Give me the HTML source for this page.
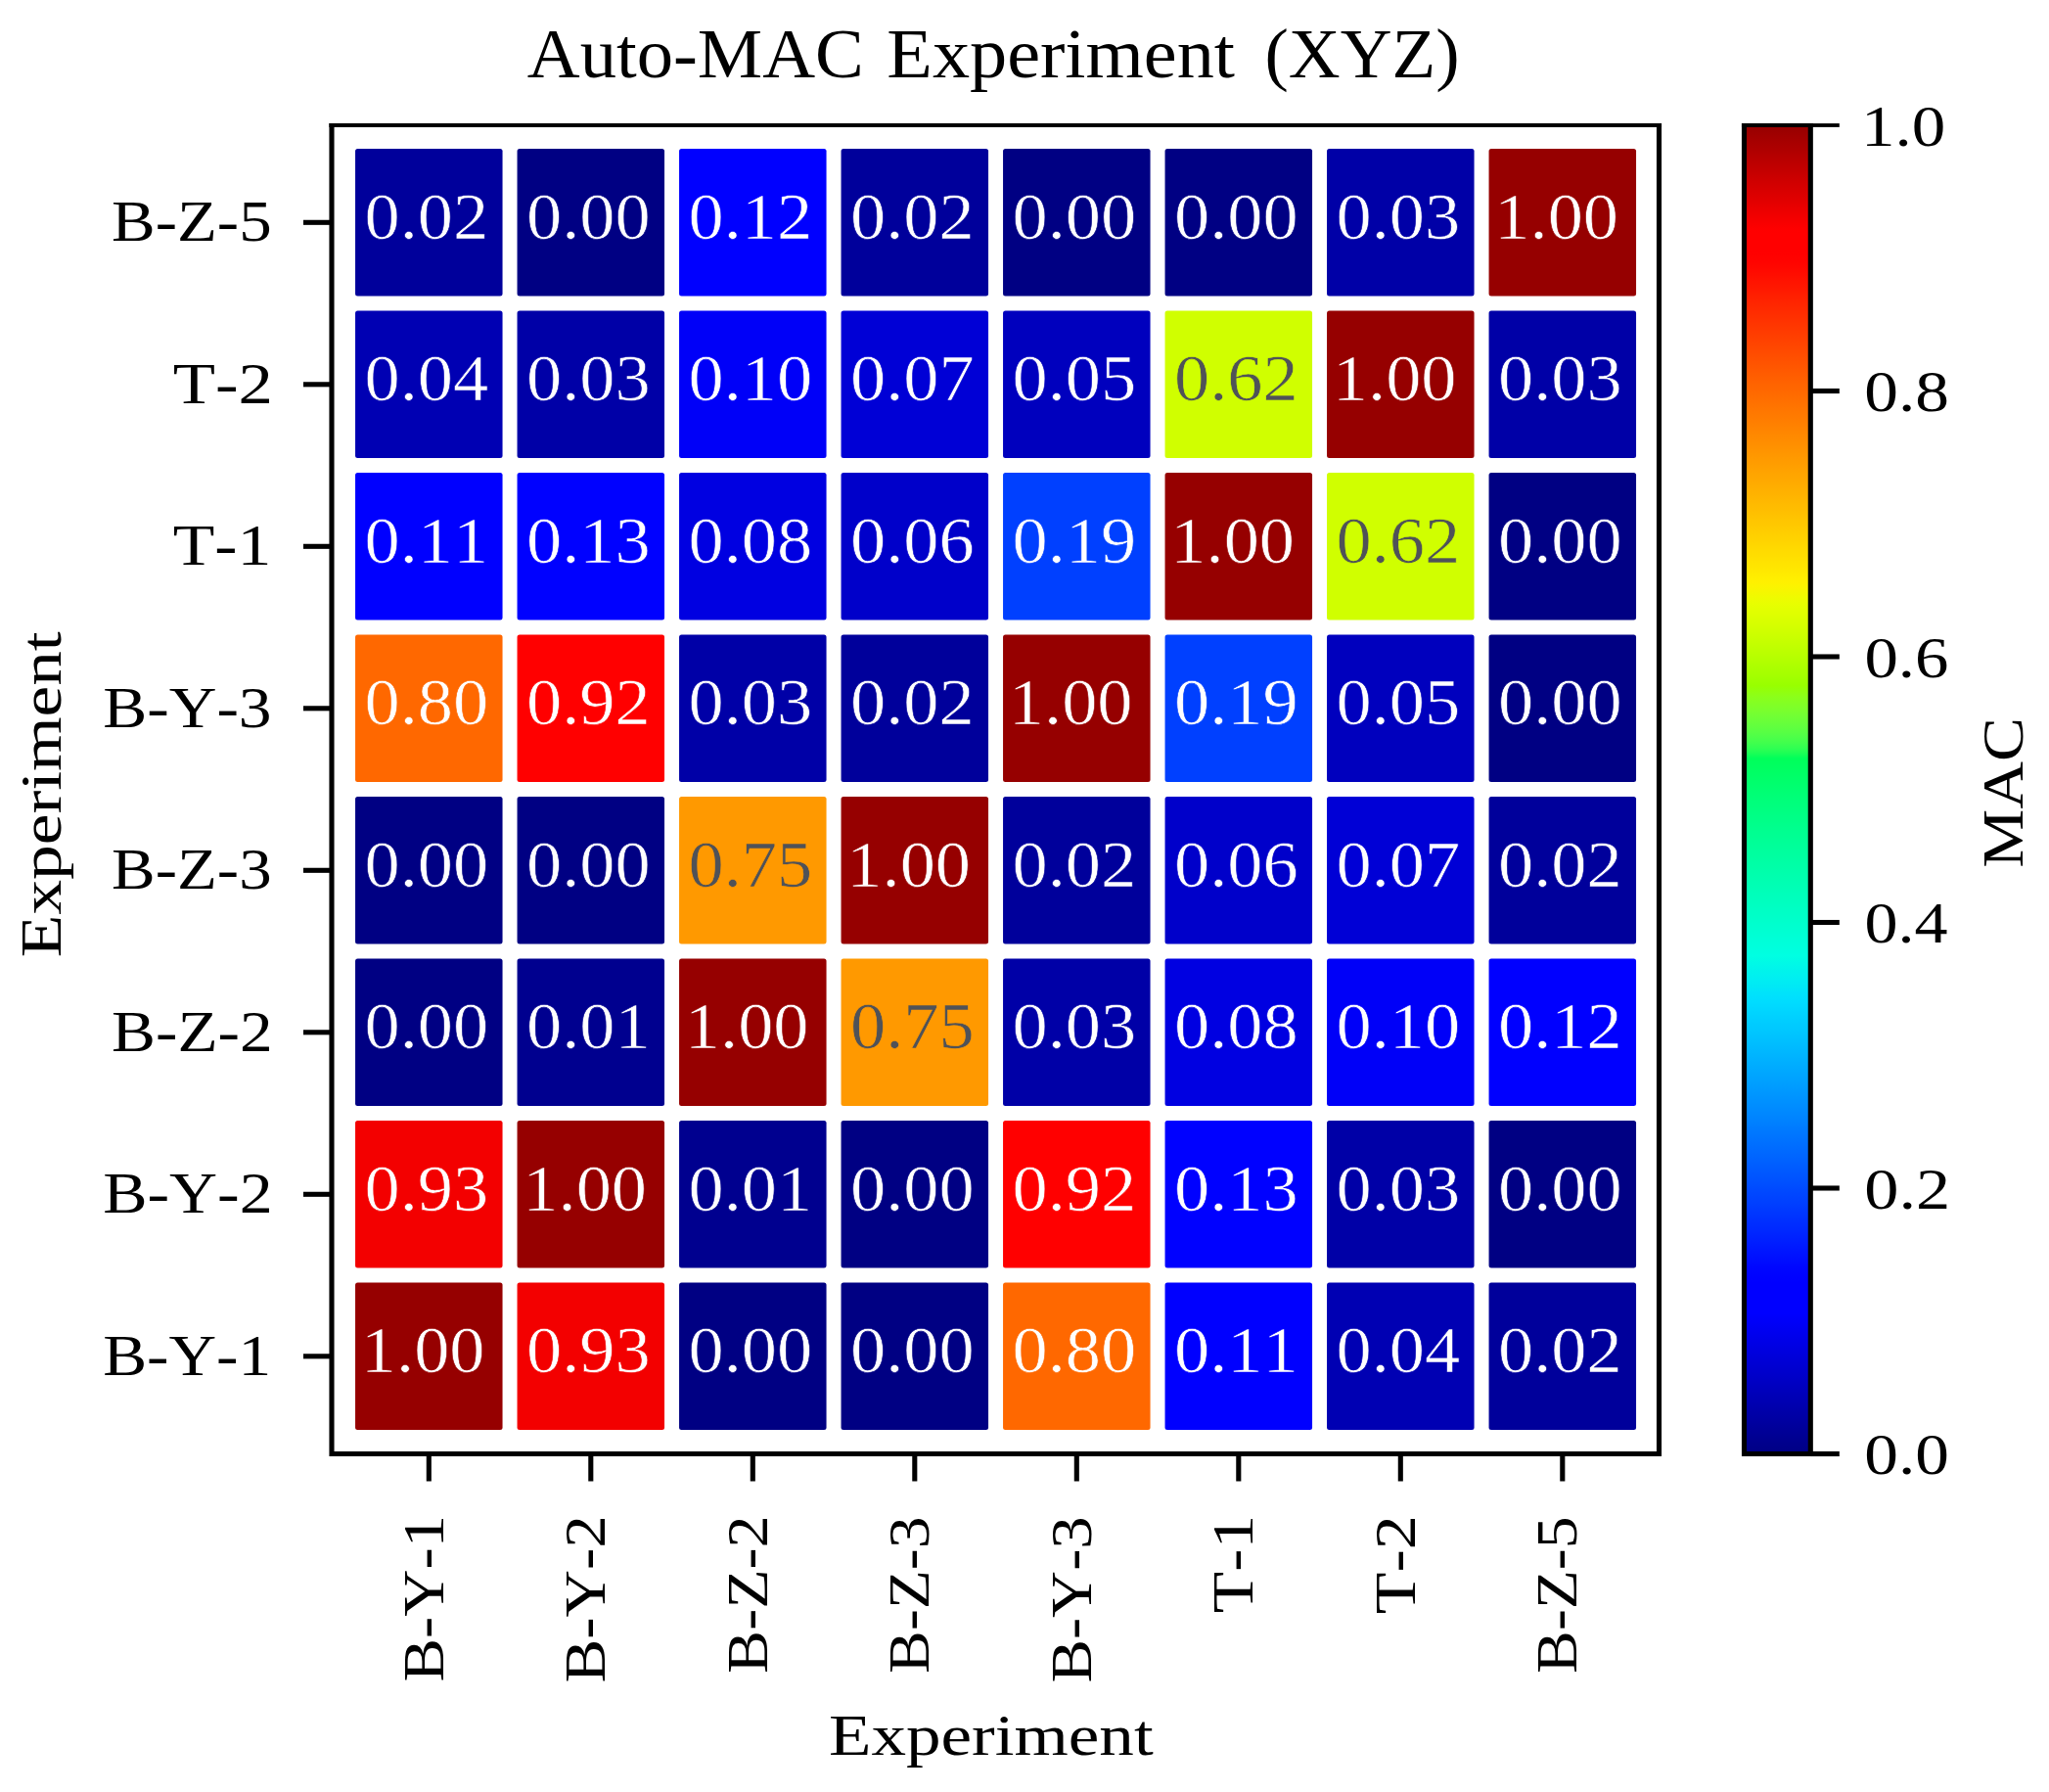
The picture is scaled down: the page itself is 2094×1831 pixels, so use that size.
<!DOCTYPE html>
<html><head><meta charset="utf-8"><title>Auto-MAC Experiment (XYZ)</title>
<style>html,body{margin:0;padding:0;background:#fff}</style></head>
<body>
<svg width="2094" height="1831" viewBox="0 0 2094 1831" style="display:block;filter:blur(0.45px);font-family:'Liberation Serif',serif;font-kerning:none">
<rect width="2094" height="1831" fill="#fff"/>
<rect x="363.05" y="152.05" width="150.5" height="150.5" rx="2.5" fill="#00009b"/>
<rect x="528.55" y="152.05" width="150.5" height="150.5" rx="2.5" fill="#000083"/>
<rect x="694.05" y="152.05" width="150.5" height="150.5" rx="2.5" fill="#0000ff"/>
<rect x="859.55" y="152.05" width="150.5" height="150.5" rx="2.5" fill="#00009b"/>
<rect x="1025.05" y="152.05" width="150.5" height="150.5" rx="2.5" fill="#000083"/>
<rect x="1190.55" y="152.05" width="150.5" height="150.5" rx="2.5" fill="#000083"/>
<rect x="1356.05" y="152.05" width="150.5" height="150.5" rx="2.5" fill="#0000a7"/>
<rect x="1521.55" y="152.05" width="150.5" height="150.5" rx="2.5" fill="#960000"/>
<rect x="363.05" y="317.55" width="150.5" height="150.5" rx="2.5" fill="#0000b3"/>
<rect x="528.55" y="317.55" width="150.5" height="150.5" rx="2.5" fill="#0000a7"/>
<rect x="694.05" y="317.55" width="150.5" height="150.5" rx="2.5" fill="#0000f8"/>
<rect x="859.55" y="317.55" width="150.5" height="150.5" rx="2.5" fill="#0000d6"/>
<rect x="1025.05" y="317.55" width="150.5" height="150.5" rx="2.5" fill="#0000be"/>
<rect x="1190.55" y="317.55" width="150.5" height="150.5" rx="2.5" fill="#d0ff00"/>
<rect x="1356.05" y="317.55" width="150.5" height="150.5" rx="2.5" fill="#960000"/>
<rect x="1521.55" y="317.55" width="150.5" height="150.5" rx="2.5" fill="#0000a7"/>
<rect x="363.05" y="483.05" width="150.5" height="150.5" rx="2.5" fill="#0000ff"/>
<rect x="528.55" y="483.05" width="150.5" height="150.5" rx="2.5" fill="#0001ff"/>
<rect x="694.05" y="483.05" width="150.5" height="150.5" rx="2.5" fill="#0000e1"/>
<rect x="859.55" y="483.05" width="150.5" height="150.5" rx="2.5" fill="#0000ca"/>
<rect x="1025.05" y="483.05" width="150.5" height="150.5" rx="2.5" fill="#0040ff"/>
<rect x="1190.55" y="483.05" width="150.5" height="150.5" rx="2.5" fill="#960000"/>
<rect x="1356.05" y="483.05" width="150.5" height="150.5" rx="2.5" fill="#d0ff00"/>
<rect x="1521.55" y="483.05" width="150.5" height="150.5" rx="2.5" fill="#000083"/>
<rect x="363.05" y="648.55" width="150.5" height="150.5" rx="2.5" fill="#ff6800"/>
<rect x="528.55" y="648.55" width="150.5" height="150.5" rx="2.5" fill="#ff0000"/>
<rect x="694.05" y="648.55" width="150.5" height="150.5" rx="2.5" fill="#0000a7"/>
<rect x="859.55" y="648.55" width="150.5" height="150.5" rx="2.5" fill="#00009b"/>
<rect x="1025.05" y="648.55" width="150.5" height="150.5" rx="2.5" fill="#960000"/>
<rect x="1190.55" y="648.55" width="150.5" height="150.5" rx="2.5" fill="#0040ff"/>
<rect x="1356.05" y="648.55" width="150.5" height="150.5" rx="2.5" fill="#0000be"/>
<rect x="1521.55" y="648.55" width="150.5" height="150.5" rx="2.5" fill="#000083"/>
<rect x="363.05" y="814.05" width="150.5" height="150.5" rx="2.5" fill="#000083"/>
<rect x="528.55" y="814.05" width="150.5" height="150.5" rx="2.5" fill="#000083"/>
<rect x="694.05" y="814.05" width="150.5" height="150.5" rx="2.5" fill="#ff9900"/>
<rect x="859.55" y="814.05" width="150.5" height="150.5" rx="2.5" fill="#960000"/>
<rect x="1025.05" y="814.05" width="150.5" height="150.5" rx="2.5" fill="#00009b"/>
<rect x="1190.55" y="814.05" width="150.5" height="150.5" rx="2.5" fill="#0000ca"/>
<rect x="1356.05" y="814.05" width="150.5" height="150.5" rx="2.5" fill="#0000d6"/>
<rect x="1521.55" y="814.05" width="150.5" height="150.5" rx="2.5" fill="#00009b"/>
<rect x="363.05" y="979.55" width="150.5" height="150.5" rx="2.5" fill="#000083"/>
<rect x="528.55" y="979.55" width="150.5" height="150.5" rx="2.5" fill="#00008f"/>
<rect x="694.05" y="979.55" width="150.5" height="150.5" rx="2.5" fill="#960000"/>
<rect x="859.55" y="979.55" width="150.5" height="150.5" rx="2.5" fill="#ff9900"/>
<rect x="1025.05" y="979.55" width="150.5" height="150.5" rx="2.5" fill="#0000a7"/>
<rect x="1190.55" y="979.55" width="150.5" height="150.5" rx="2.5" fill="#0000e1"/>
<rect x="1356.05" y="979.55" width="150.5" height="150.5" rx="2.5" fill="#0000f8"/>
<rect x="1521.55" y="979.55" width="150.5" height="150.5" rx="2.5" fill="#0000ff"/>
<rect x="363.05" y="1145.05" width="150.5" height="150.5" rx="2.5" fill="#f30000"/>
<rect x="528.55" y="1145.05" width="150.5" height="150.5" rx="2.5" fill="#960000"/>
<rect x="694.05" y="1145.05" width="150.5" height="150.5" rx="2.5" fill="#00008f"/>
<rect x="859.55" y="1145.05" width="150.5" height="150.5" rx="2.5" fill="#000083"/>
<rect x="1025.05" y="1145.05" width="150.5" height="150.5" rx="2.5" fill="#ff0000"/>
<rect x="1190.55" y="1145.05" width="150.5" height="150.5" rx="2.5" fill="#0001ff"/>
<rect x="1356.05" y="1145.05" width="150.5" height="150.5" rx="2.5" fill="#0000a7"/>
<rect x="1521.55" y="1145.05" width="150.5" height="150.5" rx="2.5" fill="#000083"/>
<rect x="363.05" y="1310.55" width="150.5" height="150.5" rx="2.5" fill="#960000"/>
<rect x="528.55" y="1310.55" width="150.5" height="150.5" rx="2.5" fill="#f30000"/>
<rect x="694.05" y="1310.55" width="150.5" height="150.5" rx="2.5" fill="#000083"/>
<rect x="859.55" y="1310.55" width="150.5" height="150.5" rx="2.5" fill="#000083"/>
<rect x="1025.05" y="1310.55" width="150.5" height="150.5" rx="2.5" fill="#ff6800"/>
<rect x="1190.55" y="1310.55" width="150.5" height="150.5" rx="2.5" fill="#0000ff"/>
<rect x="1356.05" y="1310.55" width="150.5" height="150.5" rx="2.5" fill="#0000b3"/>
<rect x="1521.55" y="1310.55" width="150.5" height="150.5" rx="2.5" fill="#00009b"/>
<text transform="translate(372.44 243.60) scale(1.0859 1)" font-size="66.7" fill="#fff" stroke="#00009b" stroke-width="0.6">0.02</text>
<text transform="translate(537.94 243.60) scale(1.0859 1)" font-size="66.7" fill="#fff" stroke="#000083" stroke-width="0.6">0.00</text>
<text transform="translate(703.44 243.60) scale(1.0859 1)" font-size="66.7" fill="#fff" stroke="#0000ff" stroke-width="0.6">0.12</text>
<text transform="translate(868.94 243.60) scale(1.0859 1)" font-size="66.7" fill="#fff" stroke="#00009b" stroke-width="0.6">0.02</text>
<text transform="translate(1034.44 243.60) scale(1.0859 1)" font-size="66.7" fill="#fff" stroke="#000083" stroke-width="0.6">0.00</text>
<text transform="translate(1199.94 243.60) scale(1.0859 1)" font-size="66.7" fill="#fff" stroke="#000083" stroke-width="0.6">0.00</text>
<text transform="translate(1365.44 243.60) scale(1.0859 1)" font-size="66.7" fill="#fff" stroke="#0000a7" stroke-width="0.6">0.03</text>
<text transform="translate(1527.33 243.60) scale(1.0859 1)" font-size="66.7" fill="#fff" stroke="#960000" stroke-width="0.6">1.00</text>
<text transform="translate(372.44 409.10) scale(1.0859 1)" font-size="66.7" fill="#fff" stroke="#0000b3" stroke-width="0.6">0.04</text>
<text transform="translate(537.94 409.10) scale(1.0859 1)" font-size="66.7" fill="#fff" stroke="#0000a7" stroke-width="0.6">0.03</text>
<text transform="translate(703.44 409.10) scale(1.0859 1)" font-size="66.7" fill="#fff" stroke="#0000f8" stroke-width="0.6">0.10</text>
<text transform="translate(868.94 409.10) scale(1.0859 1)" font-size="66.7" fill="#fff" stroke="#0000d6" stroke-width="0.6">0.07</text>
<text transform="translate(1034.44 409.10) scale(1.0859 1)" font-size="66.7" fill="#fff" stroke="#0000be" stroke-width="0.6">0.05</text>
<text transform="translate(1199.94 409.10) scale(1.0859 1)" font-size="66.7" fill="#4f5258" stroke="#d0ff00" stroke-width="0.6">0.62</text>
<text transform="translate(1361.83 409.10) scale(1.0859 1)" font-size="66.7" fill="#fff" stroke="#960000" stroke-width="0.6">1.00</text>
<text transform="translate(1530.94 409.10) scale(1.0859 1)" font-size="66.7" fill="#fff" stroke="#0000a7" stroke-width="0.6">0.03</text>
<text transform="translate(372.44 574.60) scale(1.0859 1)" font-size="66.7" fill="#fff" stroke="#0000ff" stroke-width="0.6">0.11</text>
<text transform="translate(537.94 574.60) scale(1.0859 1)" font-size="66.7" fill="#fff" stroke="#0001ff" stroke-width="0.6">0.13</text>
<text transform="translate(703.44 574.60) scale(1.0859 1)" font-size="66.7" fill="#fff" stroke="#0000e1" stroke-width="0.6">0.08</text>
<text transform="translate(868.94 574.60) scale(1.0859 1)" font-size="66.7" fill="#fff" stroke="#0000ca" stroke-width="0.6">0.06</text>
<text transform="translate(1034.44 574.60) scale(1.0859 1)" font-size="66.7" fill="#fff" stroke="#0040ff" stroke-width="0.6">0.19</text>
<text transform="translate(1196.33 574.60) scale(1.0859 1)" font-size="66.7" fill="#fff" stroke="#960000" stroke-width="0.6">1.00</text>
<text transform="translate(1365.44 574.60) scale(1.0859 1)" font-size="66.7" fill="#4f5258" stroke="#d0ff00" stroke-width="0.6">0.62</text>
<text transform="translate(1530.94 574.60) scale(1.0859 1)" font-size="66.7" fill="#fff" stroke="#000083" stroke-width="0.6">0.00</text>
<text transform="translate(372.44 740.10) scale(1.0859 1)" font-size="66.7" fill="#fff" stroke="#ff6800" stroke-width="0.6">0.80</text>
<text transform="translate(537.94 740.10) scale(1.0859 1)" font-size="66.7" fill="#fff" stroke="#ff0000" stroke-width="0.6">0.92</text>
<text transform="translate(703.44 740.10) scale(1.0859 1)" font-size="66.7" fill="#fff" stroke="#0000a7" stroke-width="0.6">0.03</text>
<text transform="translate(868.94 740.10) scale(1.0859 1)" font-size="66.7" fill="#fff" stroke="#00009b" stroke-width="0.6">0.02</text>
<text transform="translate(1030.83 740.10) scale(1.0859 1)" font-size="66.7" fill="#fff" stroke="#960000" stroke-width="0.6">1.00</text>
<text transform="translate(1199.94 740.10) scale(1.0859 1)" font-size="66.7" fill="#fff" stroke="#0040ff" stroke-width="0.6">0.19</text>
<text transform="translate(1365.44 740.10) scale(1.0859 1)" font-size="66.7" fill="#fff" stroke="#0000be" stroke-width="0.6">0.05</text>
<text transform="translate(1530.94 740.10) scale(1.0859 1)" font-size="66.7" fill="#fff" stroke="#000083" stroke-width="0.6">0.00</text>
<text transform="translate(372.44 905.60) scale(1.0859 1)" font-size="66.7" fill="#fff" stroke="#000083" stroke-width="0.6">0.00</text>
<text transform="translate(537.94 905.60) scale(1.0859 1)" font-size="66.7" fill="#fff" stroke="#000083" stroke-width="0.6">0.00</text>
<text transform="translate(703.44 905.60) scale(1.0859 1)" font-size="66.7" fill="#4f5258" stroke="#ff9900" stroke-width="0.6">0.75</text>
<text transform="translate(865.33 905.60) scale(1.0859 1)" font-size="66.7" fill="#fff" stroke="#960000" stroke-width="0.6">1.00</text>
<text transform="translate(1034.44 905.60) scale(1.0859 1)" font-size="66.7" fill="#fff" stroke="#00009b" stroke-width="0.6">0.02</text>
<text transform="translate(1199.94 905.60) scale(1.0859 1)" font-size="66.7" fill="#fff" stroke="#0000ca" stroke-width="0.6">0.06</text>
<text transform="translate(1365.44 905.60) scale(1.0859 1)" font-size="66.7" fill="#fff" stroke="#0000d6" stroke-width="0.6">0.07</text>
<text transform="translate(1530.94 905.60) scale(1.0859 1)" font-size="66.7" fill="#fff" stroke="#00009b" stroke-width="0.6">0.02</text>
<text transform="translate(372.44 1071.10) scale(1.0859 1)" font-size="66.7" fill="#fff" stroke="#000083" stroke-width="0.6">0.00</text>
<text transform="translate(537.94 1071.10) scale(1.0859 1)" font-size="66.7" fill="#fff" stroke="#00008f" stroke-width="0.6">0.01</text>
<text transform="translate(699.83 1071.10) scale(1.0859 1)" font-size="66.7" fill="#fff" stroke="#960000" stroke-width="0.6">1.00</text>
<text transform="translate(868.94 1071.10) scale(1.0859 1)" font-size="66.7" fill="#4f5258" stroke="#ff9900" stroke-width="0.6">0.75</text>
<text transform="translate(1034.44 1071.10) scale(1.0859 1)" font-size="66.7" fill="#fff" stroke="#0000a7" stroke-width="0.6">0.03</text>
<text transform="translate(1199.94 1071.10) scale(1.0859 1)" font-size="66.7" fill="#fff" stroke="#0000e1" stroke-width="0.6">0.08</text>
<text transform="translate(1365.44 1071.10) scale(1.0859 1)" font-size="66.7" fill="#fff" stroke="#0000f8" stroke-width="0.6">0.10</text>
<text transform="translate(1530.94 1071.10) scale(1.0859 1)" font-size="66.7" fill="#fff" stroke="#0000ff" stroke-width="0.6">0.12</text>
<text transform="translate(372.44 1236.60) scale(1.0859 1)" font-size="66.7" fill="#fff" stroke="#f30000" stroke-width="0.6">0.93</text>
<text transform="translate(534.33 1236.60) scale(1.0859 1)" font-size="66.7" fill="#fff" stroke="#960000" stroke-width="0.6">1.00</text>
<text transform="translate(703.44 1236.60) scale(1.0859 1)" font-size="66.7" fill="#fff" stroke="#00008f" stroke-width="0.6">0.01</text>
<text transform="translate(868.94 1236.60) scale(1.0859 1)" font-size="66.7" fill="#fff" stroke="#000083" stroke-width="0.6">0.00</text>
<text transform="translate(1034.44 1236.60) scale(1.0859 1)" font-size="66.7" fill="#fff" stroke="#ff0000" stroke-width="0.6">0.92</text>
<text transform="translate(1199.94 1236.60) scale(1.0859 1)" font-size="66.7" fill="#fff" stroke="#0001ff" stroke-width="0.6">0.13</text>
<text transform="translate(1365.44 1236.60) scale(1.0859 1)" font-size="66.7" fill="#fff" stroke="#0000a7" stroke-width="0.6">0.03</text>
<text transform="translate(1530.94 1236.60) scale(1.0859 1)" font-size="66.7" fill="#fff" stroke="#000083" stroke-width="0.6">0.00</text>
<text transform="translate(368.83 1402.10) scale(1.0859 1)" font-size="66.7" fill="#fff" stroke="#960000" stroke-width="0.6">1.00</text>
<text transform="translate(537.94 1402.10) scale(1.0859 1)" font-size="66.7" fill="#fff" stroke="#f30000" stroke-width="0.6">0.93</text>
<text transform="translate(703.44 1402.10) scale(1.0859 1)" font-size="66.7" fill="#fff" stroke="#000083" stroke-width="0.6">0.00</text>
<text transform="translate(868.94 1402.10) scale(1.0859 1)" font-size="66.7" fill="#fff" stroke="#000083" stroke-width="0.6">0.00</text>
<text transform="translate(1034.44 1402.10) scale(1.0859 1)" font-size="66.7" fill="#fff" stroke="#ff6800" stroke-width="0.6">0.80</text>
<text transform="translate(1199.94 1402.10) scale(1.0859 1)" font-size="66.7" fill="#fff" stroke="#0000ff" stroke-width="0.6">0.11</text>
<text transform="translate(1365.44 1402.10) scale(1.0859 1)" font-size="66.7" fill="#fff" stroke="#0000b3" stroke-width="0.6">0.04</text>
<text transform="translate(1530.94 1402.10) scale(1.0859 1)" font-size="66.7" fill="#fff" stroke="#00009b" stroke-width="0.6">0.02</text>
<path d="M339.0 126.1V1488.05M1695.5 126.1V1488.05M336.45 1485.5H1698.05" fill="none" stroke="#000" stroke-width="5.1"/>
<path d="M336.45 128.0H1698.05" fill="none" stroke="#000" stroke-width="3.8"/>
<line x1="310.0" y1="227.30" x2="339.0" y2="227.30" stroke="#000" stroke-width="5.1"/>
<line x1="438.30" y1="1485.5" x2="438.30" y2="1513.5" stroke="#000" stroke-width="5.1"/>
<line x1="310.0" y1="392.80" x2="339.0" y2="392.80" stroke="#000" stroke-width="5.1"/>
<line x1="603.80" y1="1485.5" x2="603.80" y2="1513.5" stroke="#000" stroke-width="5.1"/>
<line x1="310.0" y1="558.30" x2="339.0" y2="558.30" stroke="#000" stroke-width="5.1"/>
<line x1="769.30" y1="1485.5" x2="769.30" y2="1513.5" stroke="#000" stroke-width="5.1"/>
<line x1="310.0" y1="723.80" x2="339.0" y2="723.80" stroke="#000" stroke-width="5.1"/>
<line x1="934.80" y1="1485.5" x2="934.80" y2="1513.5" stroke="#000" stroke-width="5.1"/>
<line x1="310.0" y1="889.30" x2="339.0" y2="889.30" stroke="#000" stroke-width="5.1"/>
<line x1="1100.30" y1="1485.5" x2="1100.30" y2="1513.5" stroke="#000" stroke-width="5.1"/>
<line x1="310.0" y1="1054.80" x2="339.0" y2="1054.80" stroke="#000" stroke-width="5.1"/>
<line x1="1265.80" y1="1485.5" x2="1265.80" y2="1513.5" stroke="#000" stroke-width="5.1"/>
<line x1="310.0" y1="1220.30" x2="339.0" y2="1220.30" stroke="#000" stroke-width="5.1"/>
<line x1="1431.30" y1="1485.5" x2="1431.30" y2="1513.5" stroke="#000" stroke-width="5.1"/>
<line x1="310.0" y1="1385.80" x2="339.0" y2="1385.80" stroke="#000" stroke-width="5.1"/>
<line x1="1596.80" y1="1485.5" x2="1596.80" y2="1513.5" stroke="#000" stroke-width="5.1"/>
<text transform="translate(114.07 246.30) scale(1.1285 1)" font-size="59.3" fill="#000">B-Z-5</text>
<text transform="translate(176.72 411.80) scale(1.1935 1)" font-size="59.3" fill="#000">T-2</text>
<text transform="translate(176.74 577.30) scale(1.1755 1)" font-size="59.3" fill="#000">T-1</text>
<text transform="translate(105.16 742.80) scale(1.1383 1)" font-size="59.3" fill="#000">B-Y-3</text>
<text transform="translate(114.07 908.30) scale(1.1285 1)" font-size="59.3" fill="#000">B-Z-3</text>
<text transform="translate(114.06 1073.80) scale(1.1362 1)" font-size="59.3" fill="#000">B-Z-2</text>
<text transform="translate(105.14 1239.30) scale(1.1457 1)" font-size="59.3" fill="#000">B-Y-2</text>
<text transform="translate(105.16 1404.80) scale(1.1357 1)" font-size="59.3" fill="#000">B-Y-1</text>
<text transform="translate(452.60 1718.42) rotate(-90) scale(1.1248 1)" font-size="59.3" fill="#000">B-Y-1</text>
<text transform="translate(618.10 1719.43) rotate(-90) scale(1.1294 1)" font-size="59.3" fill="#000">B-Y-2</text>
<text transform="translate(783.60 1709.90) rotate(-90) scale(1.1148 1)" font-size="59.3" fill="#000">B-Z-2</text>
<text transform="translate(949.10 1709.89) rotate(-90) scale(1.1072 1)" font-size="59.3" fill="#000">B-Z-3</text>
<text transform="translate(1114.60 1719.42) rotate(-90) scale(1.1221 1)" font-size="59.3" fill="#000">B-Y-3</text>
<text transform="translate(1280.10 1648.26) rotate(-90) scale(1.1730 1)" font-size="59.3" fill="#000">T-1</text>
<text transform="translate(1445.60 1649.27) rotate(-90) scale(1.1811 1)" font-size="59.3" fill="#000">T-2</text>
<text transform="translate(1611.10 1709.89) rotate(-90) scale(1.1072 1)" font-size="59.3" fill="#000">B-Z-5</text>
<text transform="translate(846.95 1792.90) scale(1.1993 1)" font-size="59.3" fill="#000">Experiment</text>
<text transform="translate(62.10 978.16) rotate(-90) scale(1.2033 1)" font-size="59.3" fill="#000">Experiment</text>
<text y="78.5" font-size="72" fill="#000"><tspan x="538.77" textLength="344.05" lengthAdjust="spacingAndGlyphs">Auto-MAC</tspan> <tspan x="906.30" textLength="355.74" lengthAdjust="spacingAndGlyphs">Experiment</tspan> <tspan x="1292.48" textLength="199.24" lengthAdjust="spacingAndGlyphs">(XYZ)</tspan></text>
<defs><linearGradient id="cb" x1="0" y1="1" x2="0" y2="0">
<stop offset="0.0000" stop-color="#000083"/>
<stop offset="0.0039" stop-color="#000088"/>
<stop offset="0.0078" stop-color="#00008c"/>
<stop offset="0.0117" stop-color="#000091"/>
<stop offset="0.0156" stop-color="#000096"/>
<stop offset="0.0195" stop-color="#00009a"/>
<stop offset="0.0234" stop-color="#00009f"/>
<stop offset="0.0273" stop-color="#0000a4"/>
<stop offset="0.0312" stop-color="#0000a8"/>
<stop offset="0.0352" stop-color="#0000ad"/>
<stop offset="0.0391" stop-color="#0000b2"/>
<stop offset="0.0430" stop-color="#0000b6"/>
<stop offset="0.0469" stop-color="#0000bb"/>
<stop offset="0.0508" stop-color="#0000bf"/>
<stop offset="0.0547" stop-color="#0000c4"/>
<stop offset="0.0586" stop-color="#0000c9"/>
<stop offset="0.0625" stop-color="#0000cd"/>
<stop offset="0.0664" stop-color="#0000d2"/>
<stop offset="0.0703" stop-color="#0000d6"/>
<stop offset="0.0742" stop-color="#0000db"/>
<stop offset="0.0781" stop-color="#0000df"/>
<stop offset="0.0820" stop-color="#0000e4"/>
<stop offset="0.0859" stop-color="#0000e8"/>
<stop offset="0.0898" stop-color="#0000ed"/>
<stop offset="0.0938" stop-color="#0000f1"/>
<stop offset="0.0977" stop-color="#0000f6"/>
<stop offset="0.1016" stop-color="#0000fa"/>
<stop offset="0.1055" stop-color="#0000ff"/>
<stop offset="0.1094" stop-color="#0000ff"/>
<stop offset="0.1133" stop-color="#0000ff"/>
<stop offset="0.1172" stop-color="#0000ff"/>
<stop offset="0.1211" stop-color="#0000ff"/>
<stop offset="0.1250" stop-color="#0000ff"/>
<stop offset="0.1289" stop-color="#0000ff"/>
<stop offset="0.1328" stop-color="#0002ff"/>
<stop offset="0.1367" stop-color="#0004ff"/>
<stop offset="0.1406" stop-color="#0007ff"/>
<stop offset="0.1445" stop-color="#000cff"/>
<stop offset="0.1484" stop-color="#0011ff"/>
<stop offset="0.1523" stop-color="#0015ff"/>
<stop offset="0.1562" stop-color="#001aff"/>
<stop offset="0.1602" stop-color="#001fff"/>
<stop offset="0.1641" stop-color="#0023ff"/>
<stop offset="0.1680" stop-color="#0028ff"/>
<stop offset="0.1719" stop-color="#002cff"/>
<stop offset="0.1758" stop-color="#0030ff"/>
<stop offset="0.1797" stop-color="#0035ff"/>
<stop offset="0.1836" stop-color="#0039ff"/>
<stop offset="0.1875" stop-color="#003eff"/>
<stop offset="0.1914" stop-color="#0042ff"/>
<stop offset="0.1953" stop-color="#0046ff"/>
<stop offset="0.1992" stop-color="#004aff"/>
<stop offset="0.2031" stop-color="#004fff"/>
<stop offset="0.2070" stop-color="#0053ff"/>
<stop offset="0.2109" stop-color="#0057ff"/>
<stop offset="0.2148" stop-color="#005bff"/>
<stop offset="0.2188" stop-color="#005fff"/>
<stop offset="0.2227" stop-color="#0064ff"/>
<stop offset="0.2266" stop-color="#0068ff"/>
<stop offset="0.2305" stop-color="#006cff"/>
<stop offset="0.2344" stop-color="#0070ff"/>
<stop offset="0.2383" stop-color="#0074ff"/>
<stop offset="0.2422" stop-color="#0078ff"/>
<stop offset="0.2461" stop-color="#007cff"/>
<stop offset="0.2500" stop-color="#0081ff"/>
<stop offset="0.2539" stop-color="#0085ff"/>
<stop offset="0.2578" stop-color="#0089ff"/>
<stop offset="0.2617" stop-color="#008dff"/>
<stop offset="0.2656" stop-color="#0091ff"/>
<stop offset="0.2695" stop-color="#0095ff"/>
<stop offset="0.2734" stop-color="#0099ff"/>
<stop offset="0.2773" stop-color="#009dff"/>
<stop offset="0.2812" stop-color="#00a1ff"/>
<stop offset="0.2852" stop-color="#00a5ff"/>
<stop offset="0.2891" stop-color="#00a9ff"/>
<stop offset="0.2930" stop-color="#00adff"/>
<stop offset="0.2969" stop-color="#00b1ff"/>
<stop offset="0.3008" stop-color="#00b5ff"/>
<stop offset="0.3047" stop-color="#00b9ff"/>
<stop offset="0.3086" stop-color="#00bdff"/>
<stop offset="0.3125" stop-color="#00c1ff"/>
<stop offset="0.3164" stop-color="#00c5ff"/>
<stop offset="0.3203" stop-color="#00c9ff"/>
<stop offset="0.3242" stop-color="#00ccff"/>
<stop offset="0.3281" stop-color="#00d0ff"/>
<stop offset="0.3320" stop-color="#00d4ff"/>
<stop offset="0.3359" stop-color="#00d8ff"/>
<stop offset="0.3398" stop-color="#00dcff"/>
<stop offset="0.3438" stop-color="#00e0fd"/>
<stop offset="0.3477" stop-color="#00e4fa"/>
<stop offset="0.3516" stop-color="#00e8f6"/>
<stop offset="0.3555" stop-color="#00ecf3"/>
<stop offset="0.3594" stop-color="#00f0f0"/>
<stop offset="0.3633" stop-color="#00f3ec"/>
<stop offset="0.3672" stop-color="#00f7e9"/>
<stop offset="0.3711" stop-color="#00fbe5"/>
<stop offset="0.3750" stop-color="#00ffe2"/>
<stop offset="0.3789" stop-color="#00ffde"/>
<stop offset="0.3828" stop-color="#00ffdb"/>
<stop offset="0.3867" stop-color="#00ffd8"/>
<stop offset="0.3906" stop-color="#00ffd4"/>
<stop offset="0.3945" stop-color="#00ffd1"/>
<stop offset="0.3984" stop-color="#00ffce"/>
<stop offset="0.4023" stop-color="#00ffca"/>
<stop offset="0.4062" stop-color="#00ffc7"/>
<stop offset="0.4102" stop-color="#00ffc4"/>
<stop offset="0.4141" stop-color="#00ffc0"/>
<stop offset="0.4180" stop-color="#00ffbd"/>
<stop offset="0.4219" stop-color="#00ffba"/>
<stop offset="0.4258" stop-color="#00ffb6"/>
<stop offset="0.4297" stop-color="#00ffb3"/>
<stop offset="0.4336" stop-color="#00ffaf"/>
<stop offset="0.4375" stop-color="#00ffac"/>
<stop offset="0.4414" stop-color="#00ffa8"/>
<stop offset="0.4453" stop-color="#00ffa5"/>
<stop offset="0.4492" stop-color="#00ffa1"/>
<stop offset="0.4531" stop-color="#00ff9e"/>
<stop offset="0.4570" stop-color="#00ff9a"/>
<stop offset="0.4609" stop-color="#00ff97"/>
<stop offset="0.4648" stop-color="#00ff93"/>
<stop offset="0.4688" stop-color="#00ff90"/>
<stop offset="0.4727" stop-color="#00ff8c"/>
<stop offset="0.4766" stop-color="#00ff88"/>
<stop offset="0.4805" stop-color="#00ff85"/>
<stop offset="0.4844" stop-color="#00ff81"/>
<stop offset="0.4883" stop-color="#00ff7d"/>
<stop offset="0.4922" stop-color="#00ff7a"/>
<stop offset="0.4961" stop-color="#00ff76"/>
<stop offset="0.5000" stop-color="#00ff72"/>
<stop offset="0.5039" stop-color="#00ff6e"/>
<stop offset="0.5078" stop-color="#00ff6a"/>
<stop offset="0.5117" stop-color="#00ff66"/>
<stop offset="0.5156" stop-color="#00ff62"/>
<stop offset="0.5195" stop-color="#00ff5e"/>
<stop offset="0.5234" stop-color="#00ff5a"/>
<stop offset="0.5273" stop-color="#1bff56"/>
<stop offset="0.5312" stop-color="#31ff52"/>
<stop offset="0.5352" stop-color="#40ff4d"/>
<stop offset="0.5391" stop-color="#4cff49"/>
<stop offset="0.5430" stop-color="#57ff44"/>
<stop offset="0.5469" stop-color="#60ff3f"/>
<stop offset="0.5508" stop-color="#68ff3a"/>
<stop offset="0.5547" stop-color="#70ff35"/>
<stop offset="0.5586" stop-color="#78ff2f"/>
<stop offset="0.5625" stop-color="#7fff28"/>
<stop offset="0.5664" stop-color="#85ff21"/>
<stop offset="0.5703" stop-color="#8cff19"/>
<stop offset="0.5742" stop-color="#92ff0d"/>
<stop offset="0.5781" stop-color="#98ff00"/>
<stop offset="0.5820" stop-color="#9eff00"/>
<stop offset="0.5859" stop-color="#a4ff00"/>
<stop offset="0.5898" stop-color="#a9ff00"/>
<stop offset="0.5938" stop-color="#aeff00"/>
<stop offset="0.5977" stop-color="#b4ff00"/>
<stop offset="0.6016" stop-color="#b9ff00"/>
<stop offset="0.6055" stop-color="#beff00"/>
<stop offset="0.6094" stop-color="#c3ff00"/>
<stop offset="0.6133" stop-color="#c8ff00"/>
<stop offset="0.6172" stop-color="#cdff00"/>
<stop offset="0.6211" stop-color="#d2ff00"/>
<stop offset="0.6250" stop-color="#d7ff00"/>
<stop offset="0.6289" stop-color="#dbff00"/>
<stop offset="0.6328" stop-color="#e0ff00"/>
<stop offset="0.6367" stop-color="#e4ff00"/>
<stop offset="0.6406" stop-color="#e9fe00"/>
<stop offset="0.6445" stop-color="#effb00"/>
<stop offset="0.6484" stop-color="#f5f700"/>
<stop offset="0.6523" stop-color="#fbf400"/>
<stop offset="0.6562" stop-color="#fff000"/>
<stop offset="0.6602" stop-color="#ffed00"/>
<stop offset="0.6641" stop-color="#ffe900"/>
<stop offset="0.6680" stop-color="#ffe500"/>
<stop offset="0.6719" stop-color="#ffe200"/>
<stop offset="0.6758" stop-color="#ffde00"/>
<stop offset="0.6797" stop-color="#ffdb00"/>
<stop offset="0.6836" stop-color="#ffd700"/>
<stop offset="0.6875" stop-color="#ffd300"/>
<stop offset="0.6914" stop-color="#ffd000"/>
<stop offset="0.6953" stop-color="#ffcc00"/>
<stop offset="0.6992" stop-color="#ffc800"/>
<stop offset="0.7031" stop-color="#ffc500"/>
<stop offset="0.7070" stop-color="#ffc100"/>
<stop offset="0.7109" stop-color="#ffbd00"/>
<stop offset="0.7148" stop-color="#ffba00"/>
<stop offset="0.7188" stop-color="#ffb600"/>
<stop offset="0.7227" stop-color="#ffb200"/>
<stop offset="0.7266" stop-color="#ffaf00"/>
<stop offset="0.7305" stop-color="#ffab00"/>
<stop offset="0.7344" stop-color="#ffa700"/>
<stop offset="0.7383" stop-color="#ffa400"/>
<stop offset="0.7422" stop-color="#ffa000"/>
<stop offset="0.7461" stop-color="#ff9c00"/>
<stop offset="0.7500" stop-color="#ff9900"/>
<stop offset="0.7539" stop-color="#ff9500"/>
<stop offset="0.7578" stop-color="#ff9100"/>
<stop offset="0.7617" stop-color="#ff8d00"/>
<stop offset="0.7656" stop-color="#ff8a00"/>
<stop offset="0.7695" stop-color="#ff8600"/>
<stop offset="0.7734" stop-color="#ff8200"/>
<stop offset="0.7773" stop-color="#ff7e00"/>
<stop offset="0.7812" stop-color="#ff7a00"/>
<stop offset="0.7852" stop-color="#ff7700"/>
<stop offset="0.7891" stop-color="#ff7300"/>
<stop offset="0.7930" stop-color="#ff6f00"/>
<stop offset="0.7969" stop-color="#ff6b00"/>
<stop offset="0.8008" stop-color="#ff6700"/>
<stop offset="0.8047" stop-color="#ff6400"/>
<stop offset="0.8086" stop-color="#ff6000"/>
<stop offset="0.8125" stop-color="#ff5c00"/>
<stop offset="0.8164" stop-color="#ff5800"/>
<stop offset="0.8203" stop-color="#ff5400"/>
<stop offset="0.8242" stop-color="#ff5000"/>
<stop offset="0.8281" stop-color="#ff4c00"/>
<stop offset="0.8320" stop-color="#ff4800"/>
<stop offset="0.8359" stop-color="#ff4400"/>
<stop offset="0.8398" stop-color="#ff4000"/>
<stop offset="0.8438" stop-color="#ff3c00"/>
<stop offset="0.8477" stop-color="#ff3800"/>
<stop offset="0.8516" stop-color="#ff3400"/>
<stop offset="0.8555" stop-color="#ff3000"/>
<stop offset="0.8594" stop-color="#ff2c00"/>
<stop offset="0.8633" stop-color="#ff2800"/>
<stop offset="0.8672" stop-color="#ff2400"/>
<stop offset="0.8711" stop-color="#ff2000"/>
<stop offset="0.8750" stop-color="#ff1b00"/>
<stop offset="0.8789" stop-color="#ff1700"/>
<stop offset="0.8828" stop-color="#ff1300"/>
<stop offset="0.8867" stop-color="#ff0e00"/>
<stop offset="0.8906" stop-color="#ff0a00"/>
<stop offset="0.8945" stop-color="#ff0600"/>
<stop offset="0.8984" stop-color="#ff0300"/>
<stop offset="0.9023" stop-color="#ff0100"/>
<stop offset="0.9062" stop-color="#ff0000"/>
<stop offset="0.9102" stop-color="#ff0000"/>
<stop offset="0.9141" stop-color="#ff0000"/>
<stop offset="0.9180" stop-color="#ff0000"/>
<stop offset="0.9219" stop-color="#fe0000"/>
<stop offset="0.9258" stop-color="#f90000"/>
<stop offset="0.9297" stop-color="#f40000"/>
<stop offset="0.9336" stop-color="#ef0000"/>
<stop offset="0.9375" stop-color="#ea0000"/>
<stop offset="0.9414" stop-color="#e40000"/>
<stop offset="0.9453" stop-color="#df0000"/>
<stop offset="0.9492" stop-color="#da0000"/>
<stop offset="0.9531" stop-color="#d50000"/>
<stop offset="0.9570" stop-color="#d00000"/>
<stop offset="0.9609" stop-color="#cb0000"/>
<stop offset="0.9648" stop-color="#c50000"/>
<stop offset="0.9688" stop-color="#c00000"/>
<stop offset="0.9727" stop-color="#bb0000"/>
<stop offset="0.9766" stop-color="#b60000"/>
<stop offset="0.9805" stop-color="#b00000"/>
<stop offset="0.9844" stop-color="#ab0000"/>
<stop offset="0.9883" stop-color="#a60000"/>
<stop offset="0.9922" stop-color="#a10000"/>
<stop offset="0.9961" stop-color="#9b0000"/>
<stop offset="1.0000" stop-color="#960000"/>
</linearGradient></defs>
<rect x="1782.5" y="128.0" width="67.79999999999995" height="1357.5" fill="url(#cb)"/>
<path d="M1782.5 126.1V1488.05M1850.3 126.1V1488.05M1779.95 1485.5H1852.85" fill="none" stroke="#000" stroke-width="5.1"/>
<path d="M1779.95 128.0H1852.85" fill="none" stroke="#000" stroke-width="3.8"/>
<line x1="1850.3" y1="1485.50" x2="1879.8" y2="1485.50" stroke="#000" stroke-width="5.1"/>
<text transform="translate(1905.36 1506.00) scale(1.1694 1)" font-size="59.3" fill="#000">0.0</text>
<line x1="1850.3" y1="1214.00" x2="1879.8" y2="1214.00" stroke="#000" stroke-width="5.1"/>
<text transform="translate(1905.32 1234.50) scale(1.1867 1)" font-size="59.3" fill="#000">0.2</text>
<line x1="1850.3" y1="942.50" x2="1879.8" y2="942.50" stroke="#000" stroke-width="5.1"/>
<text transform="translate(1905.41 963.00) scale(1.1474 1)" font-size="59.3" fill="#000">0.4</text>
<line x1="1850.3" y1="671.00" x2="1879.8" y2="671.00" stroke="#000" stroke-width="5.1"/>
<text transform="translate(1905.38 691.50) scale(1.1612 1)" font-size="59.3" fill="#000">0.6</text>
<line x1="1850.3" y1="399.50" x2="1879.8" y2="399.50" stroke="#000" stroke-width="5.1"/>
<text transform="translate(1905.36 420.00) scale(1.1694 1)" font-size="59.3" fill="#000">0.8</text>
<line x1="1850.3" y1="128.00" x2="1879.8" y2="128.00" stroke="#000" stroke-width="3.8"/>
<text transform="translate(1901.93 148.50) scale(1.1642 1)" font-size="59.3" fill="#000">1.0</text>
<text transform="translate(2066.90 886.74) rotate(-90) scale(1.1374 1)" font-size="59.3" fill="#000">MAC</text>
</svg>
</body></html>
